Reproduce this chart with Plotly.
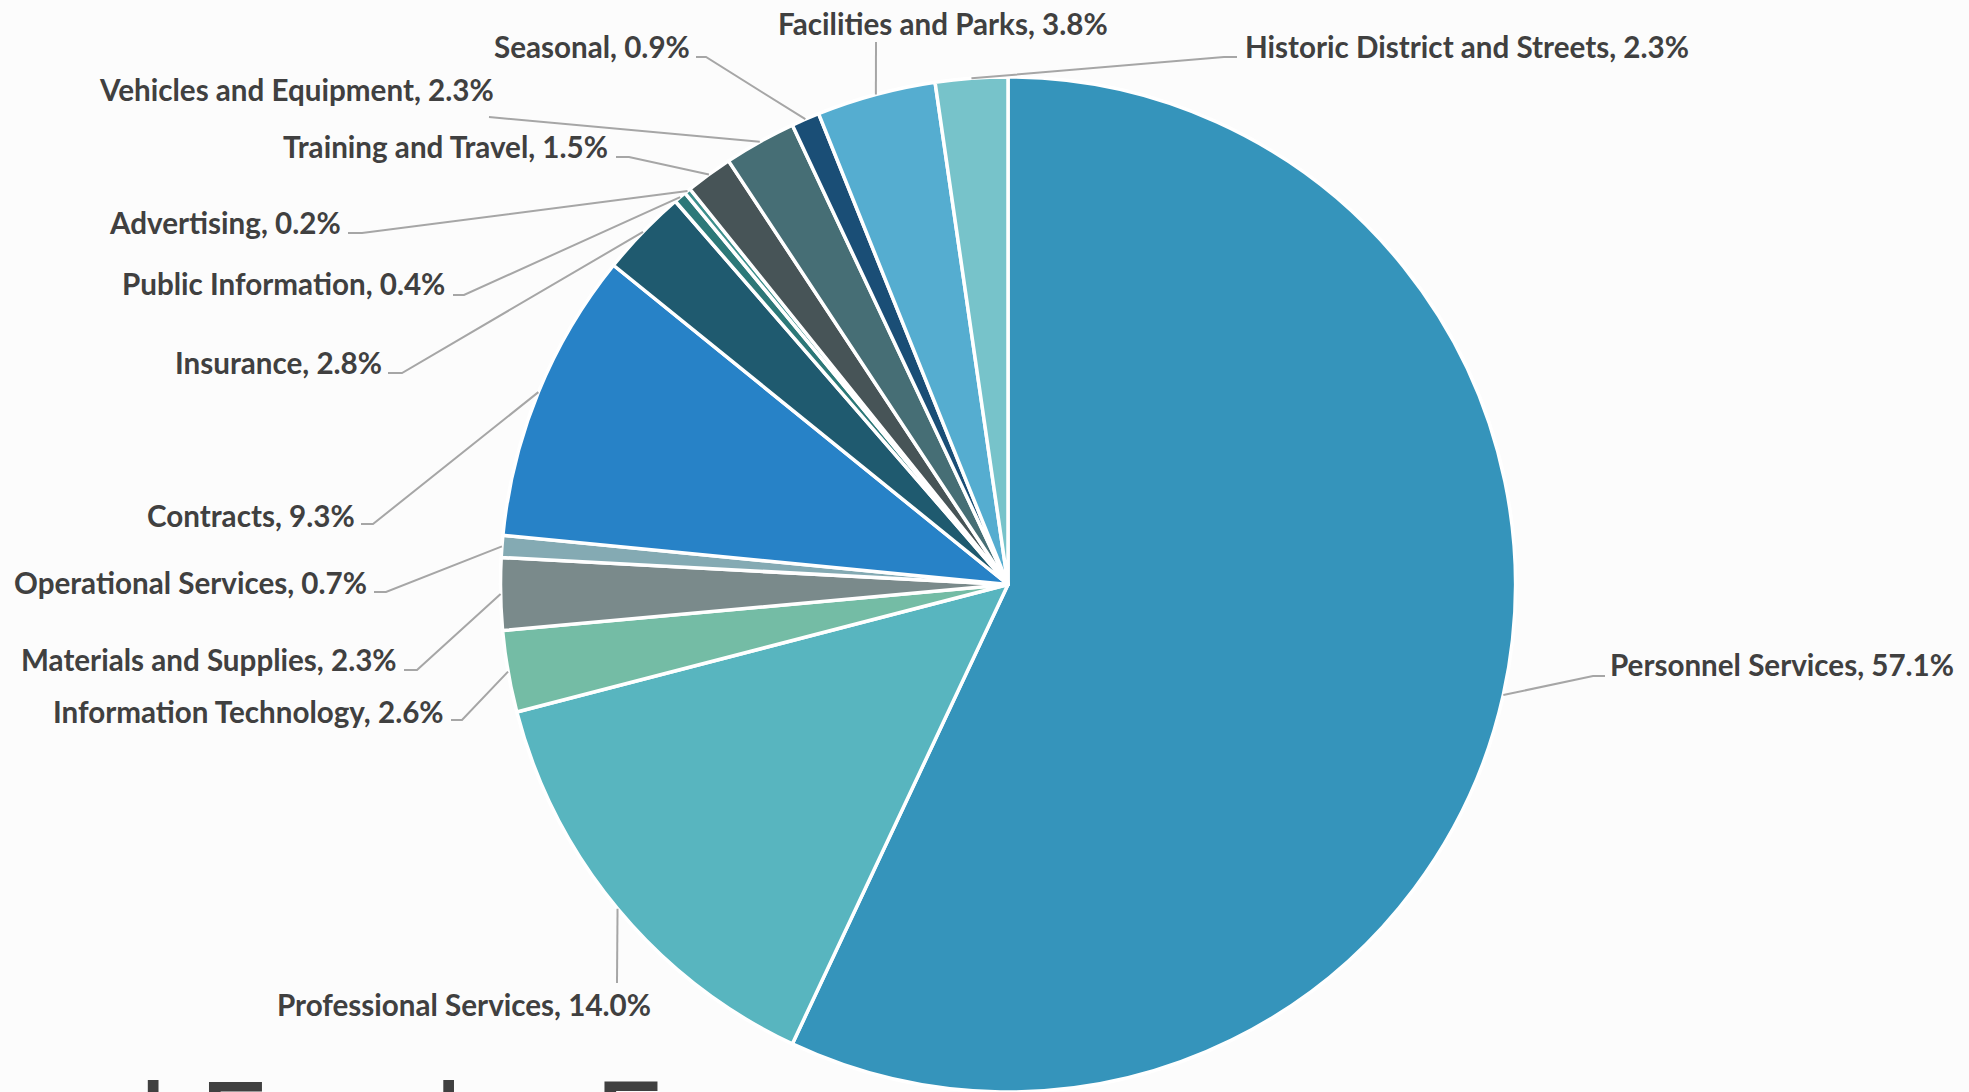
import math
import plotly.graph_objects as go

# Spending categories and their share of the total (percent)
categories = [
    "Personnel Services", "Professional Services", "Information Technology",
    "Materials and Supplies", "Operational Services", "Contracts", "Insurance",
    "Public Information", "Advertising", "Training and Travel",
    "Vehicles and Equipment", "Seasonal", "Facilities and Parks",
    "Historic District and Streets",
]
shares = [57.1, 14.0, 2.6, 2.3, 0.7, 9.3, 2.8, 0.4, 0.2, 1.5, 2.3, 0.9, 3.8, 2.3]
slice_colors = [
    "#3594BB", "#58B5BF", "#74BCA5", "#7A8A8B", "#84AAB3", "#2782C7", "#1F5A6F",
    "#2C7878", "#3E8F8C", "#475457", "#466E75", "#1A4E76", "#55ADD0", "#77C3CA",
]

# Page geometry in pixels
W, H = 1969, 1092
CX, CY, R = 1008, 584.5, 507.5

# Label placement (pixels): text anchor x, text middle y, horizontal anchor
label_pos = [
    (1608, 665, "left"),    # Personnel Services
    (464, 1004, "center"),  # Professional Services
    (446, 711, "right"),    # Information Technology
    (399, 659, "right"),    # Materials and Supplies
    (369, 582, "right"),    # Operational Services
    (357, 515, "right"),    # Contracts
    (384, 363, "right"),    # Insurance
    (447, 284, "right"),    # Public Information
    (343, 223, "right"),    # Advertising
    (610, 147, "right"),    # Training and Travel
    (496, 89, "right"),     # Vehicles and Equipment
    (692, 47, "right"),     # Seasonal
    (943, 23, "center"),    # Facilities and Parks
    (1243, 47, "left"),     # Historic District and Streets
]
# Leader line bend points (pixels), from the label end toward the slice
leader_bends = [
    [(1605, 676), (1593, 676)],
    [(617, 983)],
    [(451, 720), (462, 720)],
    [(404, 670), (417, 670)],
    [(374, 592), (386, 592)],
    [(361, 524), (373, 524)],
    [(388, 373), (402, 373)],
    [(453, 295), (464, 295)],
    [(348, 233), (362, 233)],
    [(616, 157), (629, 157)],
    [(489, 117)],
    [(696, 57), (706, 57)],
    [(876, 42)],
    [(1237, 57), (1224, 57)],
]


def px(x):
    return x / W


def py(y):
    return 1 - y / H


fig = go.Figure(
    go.Pie(
        labels=categories,
        values=shares,
        sort=False,
        direction="clockwise",
        rotation=0,
        marker=dict(colors=slice_colors, line=dict(color="white", width=3.5)),
        textinfo="none",
        hoverinfo="label+percent",
        showlegend=False,
        domain=dict(
            x=[(CX - R) / W, (CX + R) / W],
            y=[max(0.0, 1 - (CY + R) / H), 1 - (CY - R) / H],
        ),
    )
)

total = sum(shares)
cum = 0.0
shapes = []
annotations = []
for cat, val, (lx, ly, anchor), bends in zip(categories, shares, label_pos, leader_bends):
    mid = (cum + val / 2) / total
    cum += val
    theta = 2 * math.pi * mid
    ax = CX + R * math.sin(theta)
    ay = CY - R * math.cos(theta)
    pts = list(bends) + [(ax, ay)]
    path = "M " + " L ".join(f"{px(x):.6f},{py(y):.6f}" for x, y in pts)
    shapes.append(dict(type="path", xref="paper", yref="paper", path=path,
                       line=dict(color="#A6A6A6", width=2)))
    annotations.append(dict(
        text=f"{cat}, {val:.1f}%", x=px(lx), y=py(ly), xref="paper", yref="paper",
        xanchor=anchor, yanchor="middle", showarrow=False,
        font=dict(family="Lato", size=29.6, color="#404040", weight="bold"),
    ))

# Title text running off the bottom of the page
annotations.append(dict(
    text="General Fund – Expenses", x=px(-246), y=py(1048), xref="paper", yref="paper",
    xanchor="left", yanchor="top", showarrow=False,
    font=dict(family="Lato", size=120, color="#404040"),
))

fig.update_layout(
    width=W, height=H,
    margin=dict(l=0, r=0, t=0, b=0),
    paper_bgcolor="#FCFCFC",
    plot_bgcolor="#FCFCFC",
    shapes=shapes,
    annotations=annotations,
)

fig.write_html("out.html")
